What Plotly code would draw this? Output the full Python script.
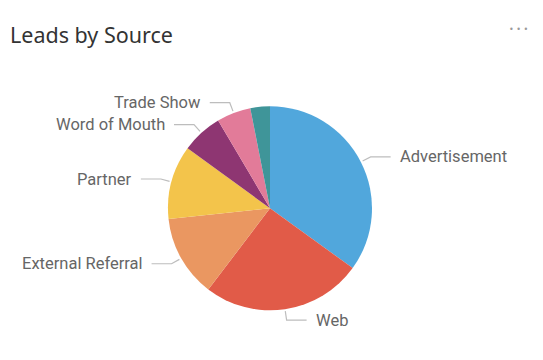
import math
import plotly.graph_objects as go

# ---- data ----
categories = ["Advertisement", "Web", "External Referral", "Partner",
              "Word of Mouth", "Trade Show", "Other"]
values = [35.0, 25.4, 13.0, 11.7, 6.5, 5.4, 3.1]
show_label = [True, True, True, True, True, True, False]
colors = ["#51A7DC", "#E15B48", "#EA9761", "#F3C44B", "#8E3672", "#E27B99", "#3F9599"]

OFF = 8  # page body margin
W, H = 543 - OFF, 360 - OFF
CX, CY, R = 270 - OFF, 208.3 - OFF, 102

def px(x):
    return x / W

def py(y):
    return 1 - y / H

fig = go.Figure()
fig.add_trace(go.Pie(
    labels=categories, values=values, sort=False, direction="clockwise",
    rotation=0, marker=dict(colors=colors, line=dict(width=0)),
    textinfo="none", hoverinfo="label+value", showlegend=False,
    domain=dict(x=[px(CX - R), px(CX + R)], y=[py(CY + R), py(CY - R)]),
))

# connectors and labels derived from data
total = sum(values)
cum = 0.0
shapes, annots = [], []
for cat, v, show in zip(categories, values, show_label):
    mid = (cum + v / 2) / total * 2 * math.pi
    cum += v
    if not show:
        continue
    s, c = math.sin(mid), math.cos(mid)
    x0, y0 = CX + (R + 2) * s, CY - (R + 2) * c
    x1, y1 = CX + (R + 11) * s, CY - (R + 11) * c
    d = 1 if s >= 0 else -1
    x2 = x1 + d * 20
    path = f"M{px(x0)},{py(y0)} L{px(x1)},{py(y1)} L{px(x2)},{py(y1)}"
    shapes.append(dict(type="path", path=path, xref="paper", yref="paper",
                       line=dict(color="#BDBDBD", width=1.2)))
    annots.append(dict(x=px(x2 + d * 7), y=py(y1), xref="paper", yref="paper",
                       text=cat, showarrow=False,
                       xanchor="left" if d > 0 else "right", yanchor="middle",
                       font=dict(family="Roboto", size=16.5, color="#666666")))

annots.append(dict(x=px(8 - OFF), y=py(35 - OFF), xref="paper", yref="paper", text="Leads by Source",
                   showarrow=False, xanchor="left", yanchor="middle",
                   font=dict(family="Segoe UI, Noto Sans, sans-serif", size=21.5, color="#333333")))
annots.append(dict(x=px(518 - OFF), y=py(29 - OFF), xref="paper", yref="paper", text="• • •",
                   showarrow=False, xanchor="center", yanchor="middle",
                   font=dict(family="DejaVu Sans", size=8, color="#9A9A9A")))

fig.update_layout(width=W, height=H, margin=dict(l=0, r=0, t=0, b=0),
                  paper_bgcolor="white", plot_bgcolor="white",
                  shapes=shapes, annotations=annots)
fig.write_html("out.html")
